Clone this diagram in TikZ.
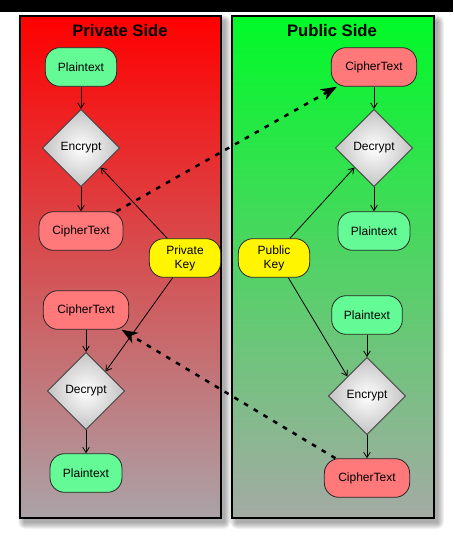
\documentclass[tikz,border=0pt]{standalone}
\usepackage{fontspec}
\setmainfont{Liberation Sans}
\usetikzlibrary{shapes.geometric,arrows.meta}

\definecolor{redtop}{RGB}{255,0,0}
\definecolor{redmid}{RGB}{234,70,92}
\definecolor{redbot}{RGB}{170,163,168}
\definecolor{greentop}{RGB}{0,250,40}
\definecolor{greenmid}{RGB}{35,218,85}
\definecolor{greenbot}{RGB}{165,170,165}
\definecolor{ptgreen}{RGB}{100,250,150}
\definecolor{ctred}{RGB}{255,120,122}
\definecolor{keyyellow}{RGB}{255,245,0}
\definecolor{diamondedge}{RGB}{195,195,195}

\tikzset{
  panel/.style={draw=black, line width=0.9pt},
  title/.style={font=\bfseries\fontsize{12.5}{15}\selectfont},
  box/.style={draw=black!85, line width=0.6pt, rounded corners=11pt,
    font=\fontsize{9}{10.5}\selectfont, inner sep=0pt, align=center,
    minimum height=29pt},
  ptbox/.style={box, fill=ptgreen},
  ctbox/.style={box, fill=ctred},
  keybox/.style={box, fill=keyyellow, minimum width=53.5pt},
  op/.style={diamond, draw=black!75, line width=0.6pt, inner sep=0pt,
    minimum width=58pt, minimum height=58pt,
    font=\fontsize{9}{10.5}\selectfont,
    inner color=white, outer color=diamondedge},
  flow/.style={-{Straight Barb[length=4pt,width=5pt]}, line width=0.6pt},
  xfer/.style={-{Stealth[length=12pt,width=9pt,inset=3.5pt]},
    line width=1.9pt, dash pattern=on 3.5pt off 5pt}
}

\begin{document}
\begin{tikzpicture}[x=0.75pt,y=-0.75pt]
\useasboundingbox (0,0) rectangle (453,542);
\fill[white] (0,0) rectangle (453,542);
\fill[black] (0,0) rectangle (453,12);

% soft drop shadows behind both panels
\foreach \s in {0,1,...,6}{
  \fill[black,opacity=0.05,rounded corners=\s] (24-\s,21-\s) rectangle (225+\s,523+\s);
  \fill[black,opacity=0.05,rounded corners=\s] (236-\s,21-\s) rectangle (438+\s,523+\s);
}

% the two sides
\shade[top color=redtop, middle color=redmid, bottom color=redbot] (20,16) rectangle (221,518);
\draw[panel] (20,16) rectangle (221,518);
\shade[top color=greentop, middle color=greenmid, bottom color=greenbot] (232,16) rectangle (434,518);
\draw[panel] (232,16) rectangle (434,518);

\node[title] (privtitle) at (120,31) {Private Side};
\node[title] (pubtitle) at (332,31) {Public Side};

% private side
\node[ptbox, minimum width=53.5pt] (pt1) at (81,67) {Plaintext};
\node[op] (enc1) at (81,148) {Encrypt};
\node[ctbox, minimum width=63pt] (ct1) at (81,231) {CipherText};
\node[keybox] (privkey) at (185,258) {Private\\Key};
\node[ctbox, minimum width=64pt] (ct2) at (86,310) {CipherText};
\node[op] (dec1) at (86,391) {Decrypt};
\node[ptbox, minimum width=54pt] (pt2) at (86,473) {Plaintext};

% public side
\node[ctbox, minimum width=64pt] (ct3) at (374,67) {CipherText};
\node[op] (dec2) at (374,148) {Decrypt};
\node[ptbox, minimum width=54pt] (pt3) at (374,231) {Plaintext};
\node[keybox] (pubkey) at (274,258) {Public\\Key};
\node[ptbox, minimum width=53pt] (pt4) at (367,315) {Plaintext};
\node[op] (enc2) at (367,396) {Encrypt};
\node[ctbox, minimum width=64pt] (ct4) at (367,478) {CipherText};

% processing steps
\draw[flow] (pt1) -- (enc1);
\draw[flow] (enc1) -- (ct1);
\draw[flow] (ct2) -- (dec1);
\draw[flow] (dec1) -- (pt2);
\draw[flow] (ct3) -- (dec2);
\draw[flow] (dec2) -- (pt3);
\draw[flow] (pt4) -- (enc2);
\draw[flow] (enc2) -- (ct4);

% keys
\draw[flow] (privkey.132) -- (enc1.south east);
\draw[flow] (privkey.238) -- (dec1.north east);
\draw[flow] (pubkey.51) -- (dec2.south west);
\draw[flow] (pubkey.306) -- (enc2.north west);

% messages crossing between the sides
\draw[xfer] (ct1.29) -- (ct3.208);
\draw[xfer] (ct4.148) -- (ct2.331);
\end{tikzpicture}
\end{document}
